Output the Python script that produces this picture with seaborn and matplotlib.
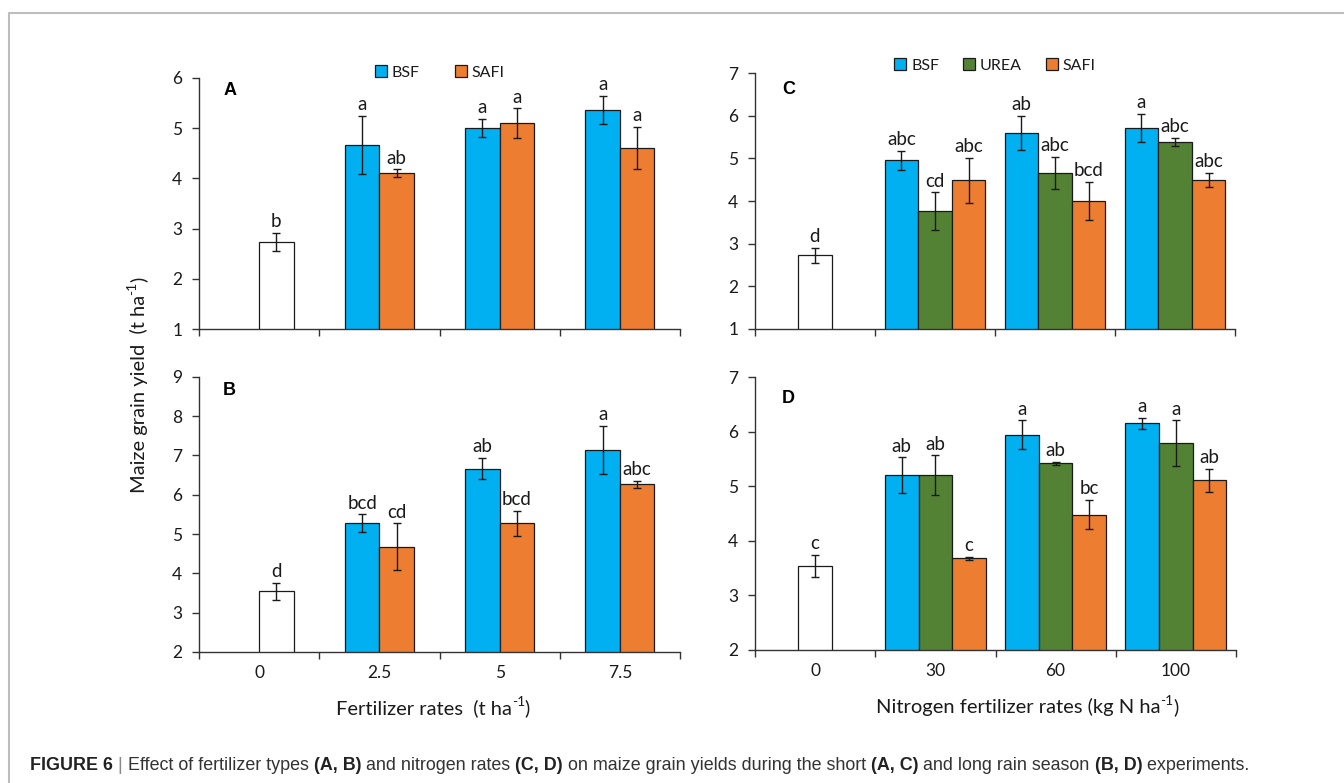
import numpy as np
import pandas as pd
import matplotlib
matplotlib.use("Agg")
import matplotlib.pyplot as plt
import seaborn as sns
from matplotlib.patches import Patch
from matplotlib.lines import Line2D

sns.set_theme(style="white")
plt.rcParams['font.family'] = ['Lato', 'DejaVu Sans']

# ---------------- data ----------------
rates_ab = ['0', '2.5', '5', '7.5']
rates_cd = ['0', '30', '60', '100']
series_ab = ['BSF', 'SAFI']
series_cd = ['BSF', 'UREA', 'SAFI']
colors = {'BSF': '#00B0F0', 'UREA': '#548235', 'SAFI': '#ED7D31'}

# Panel A (short rains, fertilizer types)
a_control, a_control_err, a_control_letter = 2.73, 0.18, 'b'
a_bsf = [4.66, 5.00, 5.36]
a_bsf_err = [0.58, 0.18, 0.28]
a_bsf_letters = ['a', 'a', 'a']
a_safi = [4.10, 5.10, 4.60]
a_safi_err = [0.08, 0.29, 0.42]
a_safi_letters = ['ab', 'a', 'a']

# Panel B (long rains, fertilizer types)
b_control, b_control_err, b_control_letter = 3.54, 0.21, 'd'
b_bsf = [5.27, 6.66, 7.14]
b_bsf_err = [0.23, 0.27, 0.61]
b_bsf_letters = ['bcd', 'ab', 'a']
b_safi = [4.68, 5.27, 6.26]
b_safi_err = [0.59, 0.32, 0.09]
b_safi_letters = ['cd', 'bcd', 'abc']

# Panel C (short rains, nitrogen rates)
c_control, c_control_err, c_control_letter = 2.72, 0.18, 'd'
c_bsf = [4.96, 5.60, 5.72]
c_bsf_err = [0.22, 0.40, 0.33]
c_bsf_letters = ['abc', 'ab', 'a']
c_urea = [3.76, 4.66, 5.39]
c_urea_err = [0.44, 0.37, 0.09]
c_urea_letters = ['cd', 'abc', 'abc']
c_safi = [4.49, 4.00, 4.50]
c_safi_err = [0.53, 0.44, 0.16]
c_safi_letters = ['abc', 'bcd', 'abc']

# Panel D (long rains, nitrogen rates)
d_control, d_control_err, d_control_letter = 3.54, 0.21, 'c'
d_bsf = [5.20, 5.95, 6.16]
d_bsf_err = [0.33, 0.26, 0.10]
d_bsf_letters = ['ab', 'a', 'a']
d_urea = [5.21, 5.42, 5.79]
d_urea_err = [0.36, 0.03, 0.42]
d_urea_letters = ['ab', 'ab', 'a']
d_safi = [3.68, 4.48, 5.11]
d_safi_err = [0.03, 0.27, 0.21]
d_safi_letters = ['c', 'bc', 'ab']

# ---------------- layout helpers ----------------
W, H = 1344, 783
fig = plt.figure(figsize=(W / 100, H / 100), dpi=100)
renderer = fig.canvas.get_renderer()


def add_ax(x0, x1, ytop, ybot):
    return fig.add_axes([x0 / W, (H - ybot) / H, (x1 - x0) / W, (ybot - ytop) / H])


axA = add_ax(199, 680, 77.7, 329.3)
axB = add_ax(199, 680, 376.7, 652)
axC = add_ax(755, 1235, 73.3, 328.7)
axD = add_ax(755, 1236, 377.3, 650)

TXT = '#1a1a1a'
TICK_FS = 12.5
LET_FS = 13.5


def panel(ax, rates, series, slot, ctrl, ctrl_err, ctrl_let, vals, errs, lets,
          ylim, width, show_xlabels, panel_letter, letter_pos):
    rows = [dict(rate=rates[0], series=slot, y=ctrl, err=ctrl_err, letter=ctrl_let, control=True)]
    for s in series:
        for i, r in enumerate(rates[1:]):
            rows.append(dict(rate=r, series=s, y=vals[s][i], err=errs[s][i],
                             letter=lets[s][i], control=False))
    df = pd.DataFrame(rows)
    sns.barplot(data=df, x='rate', y='y', hue='series', order=rates, hue_order=series,
                palette=colors, width=width, errorbar=None, edgecolor='#1a1a1a',
                linewidth=0.9, saturation=1, legend=False, ax=ax)
    patches = list(ax.patches)
    for ci, r in enumerate(rates):
        sub = df[df['rate'] == r].copy()
        sub['order'] = sub['series'].map({s: k for k, s in enumerate(series)})
        sub = sub.sort_values('order')
        ps = sorted([p for p in patches if int(round(p.get_x() + p.get_width() / 2)) == ci],
                    key=lambda p: p.get_x())
        for p, (_, row) in zip(ps, sub.iterrows()):
            cx = p.get_x() + p.get_width() / 2
            if row['control']:
                p.set_facecolor('white')
            ax.errorbar(cx, row['y'], yerr=row['err'], fmt='none', ecolor='#1a1a1a',
                        elinewidth=1.0, capsize=3, capthick=1.0, zorder=5)
            ax.annotate(row['letter'], (cx, row['y'] + row['err']), xytext=(0, 2),
                        textcoords='offset points', ha='center', va='bottom',
                        fontsize=LET_FS, color=TXT)
    ax.set_ylim(*ylim)
    ax.set_yticks(np.arange(ylim[0], ylim[1] + 1, 1))
    ax.set_yticklabels([str(v) for v in range(ylim[0], ylim[1] + 1)])
    n = len(rates)
    ax.set_xlim(-0.5, n - 0.5)
    ax.set_xticks(np.arange(-0.5, n, 1))
    ax.set_xticklabels([''] * (n + 1))
    ax.set_xticks(np.arange(n), minor=True)
    ax.set_xticklabels(rates if show_xlabels else [''] * n, minor=True)
    ax.tick_params(axis='x', which='major', bottom=True, length=5, width=1, direction='out',
                   color='#333333')
    ax.tick_params(axis='x', which='minor', bottom=True, length=0, pad=9,
                   labelsize=TICK_FS, labelcolor=TXT)
    ax.tick_params(axis='y', left=True, length=5, width=1, direction='out', color='#333333',
                   pad=7, labelsize=TICK_FS, labelcolor=TXT)
    ax.set_xlabel('')
    ax.set_ylabel('')
    for s in ['top', 'right']:
        ax.spines[s].set_visible(False)
    for s in ['left', 'bottom']:
        ax.spines[s].set_color('#333333')
        ax.spines[s].set_linewidth(1.0)
    ax.text(letter_pos[0], letter_pos[1], panel_letter, transform=ax.transAxes,
            fontsize=13, fontweight='bold', family='Liberation Sans', color='black',
            ha='left', va='center')


panel(axA, rates_ab, series_ab, 'SAFI', a_control, a_control_err, a_control_letter,
      {'BSF': a_bsf, 'SAFI': a_safi}, {'BSF': a_bsf_err, 'SAFI': a_safi_err},
      {'BSF': a_bsf_letters, 'SAFI': a_safi_letters}, (1, 6), 0.572, False, 'A', (0.05, 0.948))
panel(axB, rates_ab, series_ab, 'SAFI', b_control, b_control_err, b_control_letter,
      {'BSF': b_bsf, 'SAFI': b_safi}, {'BSF': b_bsf_err, 'SAFI': b_safi_err},
      {'BSF': b_bsf_letters, 'SAFI': b_safi_letters}, (2, 9), 0.572, True, 'B', (0.05, 0.949))
panel(axC, rates_cd, series_cd, 'UREA', c_control, c_control_err, c_control_letter,
      {'BSF': c_bsf, 'UREA': c_urea, 'SAFI': c_safi},
      {'BSF': c_bsf_err, 'UREA': c_urea_err, 'SAFI': c_safi_err},
      {'BSF': c_bsf_letters, 'UREA': c_urea_letters, 'SAFI': c_safi_letters},
      (1, 7), 0.838, False, 'C', (0.056, 0.937))
panel(axD, rates_cd, series_cd, 'UREA', d_control, d_control_err, d_control_letter,
      {'BSF': d_bsf, 'UREA': d_urea, 'SAFI': d_safi},
      {'BSF': d_bsf_err, 'UREA': d_urea_err, 'SAFI': d_safi_err},
      {'BSF': d_bsf_letters, 'UREA': d_urea_letters, 'SAFI': d_safi_letters},
      (2, 7), 0.838, True, 'D', (0.056, 0.923))


def legend(ax, series, yoff, colsp):
    handles = [Patch(facecolor=colors[s], edgecolor='#1a1a1a', linewidth=0.9, label=s) for s in series]
    ax.legend(handles=handles, loc='center', bbox_to_anchor=(0.5, 1 + yoff), ncol=len(series),
              frameon=False, handlelength=0.75, handleheight=0.75, handletextpad=0.3,
              columnspacing=colsp, fontsize=11.5, borderaxespad=0, borderpad=0,
              labelcolor=TXT)


legend(axA, series_ab, 0.02, 2.2)
legend(axC, series_cd, 0.03, 1.5)


# text with a small superscript, built from pieces
def sup_label(cx, cy, parts, fs, rotation=0):
    px = fs * 100 / 72
    widths = []
    for txt, kind in parts:
        size = fs if kind == 'base' else fs * 0.68
        t = fig.text(0, 0, txt, fontsize=size)
        widths.append(t.get_window_extent(renderer).width)
        t.remove()
    total = sum(widths)
    base_off = -0.3 * px
    acc = -total / 2
    for (txt, kind), w in zip(parts, widths):
        size = fs if kind == 'base' else fs * 0.68
        rise = 0.42 * px if kind == 'sup' else 0
        if rotation == 0:
            x = cx + acc
            y = cy - (base_off + rise)
            fig.text(x / W, 1 - y / H, txt, fontsize=size, color=TXT, ha='left', va='baseline')
        else:
            y = cy - acc
            x = cx + (-base_off) - rise
            fig.text(x / W, 1 - y / H, txt, fontsize=size, color=TXT, ha='left', va='baseline',
                     rotation=90, rotation_mode='anchor')
        acc += w


sup_label(139, 385, [('Maize grain yield  (t ha', 'base'), ('-1', 'sup'), (')', 'base')], 14.5,
          rotation=90)
sup_label(433, 708, [('Fertilizer rates  (t ha', 'base'), ('-1', 'sup'), (')', 'base')], 14.5)
sup_label(1027, 707, [('Nitrogen fertilizer rates (kg N ha', 'base'), ('-1', 'sup'), (')', 'base')],
          14.5)

# frame lines
fig.add_artist(Line2D([9 / W, 1.0], [1 - 12.7 / H, 1 - 12.7 / H], transform=fig.transFigure,
                      color='#bdbdbd', lw=1.5))
fig.add_artist(Line2D([9 / W, 9 / W], [1 - 12.7 / H, 0], transform=fig.transFigure,
                      color='#bdbdbd', lw=1.5))

# caption with mixed weights
caption = [('FIGURE 6', 'bold', '#222222'), (' | ', 'normal', '#888888'),
           ('Effect of fertilizer types ', 'normal', '#333333'), ('(A, B)', 'bold', '#222222'),
           (' and nitrogen rates ', 'normal', '#333333'), ('(C, D)', 'bold', '#222222'),
           (' on maize grain yields during the short ', 'normal', '#333333'),
           ('(A, C)', 'bold', '#222222'), (' and long rain season ', 'normal', '#333333'),
           ('(B, D)', 'bold', '#222222'), (' experiments.', 'normal', '#333333')]
x0_px, x1_px, cy = 30, 1254, 765


def measure(size):
    tot = 0
    for txt, wt, col in caption:
        t = fig.text(0, 0, txt, fontsize=size, fontweight=wt, family='Liberation Sans')
        tot += t.get_window_extent(renderer).width
        t.remove()
    return tot


fs = 12.5
fs = fs * (x1_px - x0_px) / measure(fs)
x = x0_px
for txt, wt, col in caption:
    t = fig.text(x / W, 1 - cy / H, txt, fontsize=fs, fontweight=wt, family='Liberation Sans',
                 color=col, ha='left', va='center')
    x += t.get_window_extent(renderer).width

fig.savefig('out.png', dpi=100)
